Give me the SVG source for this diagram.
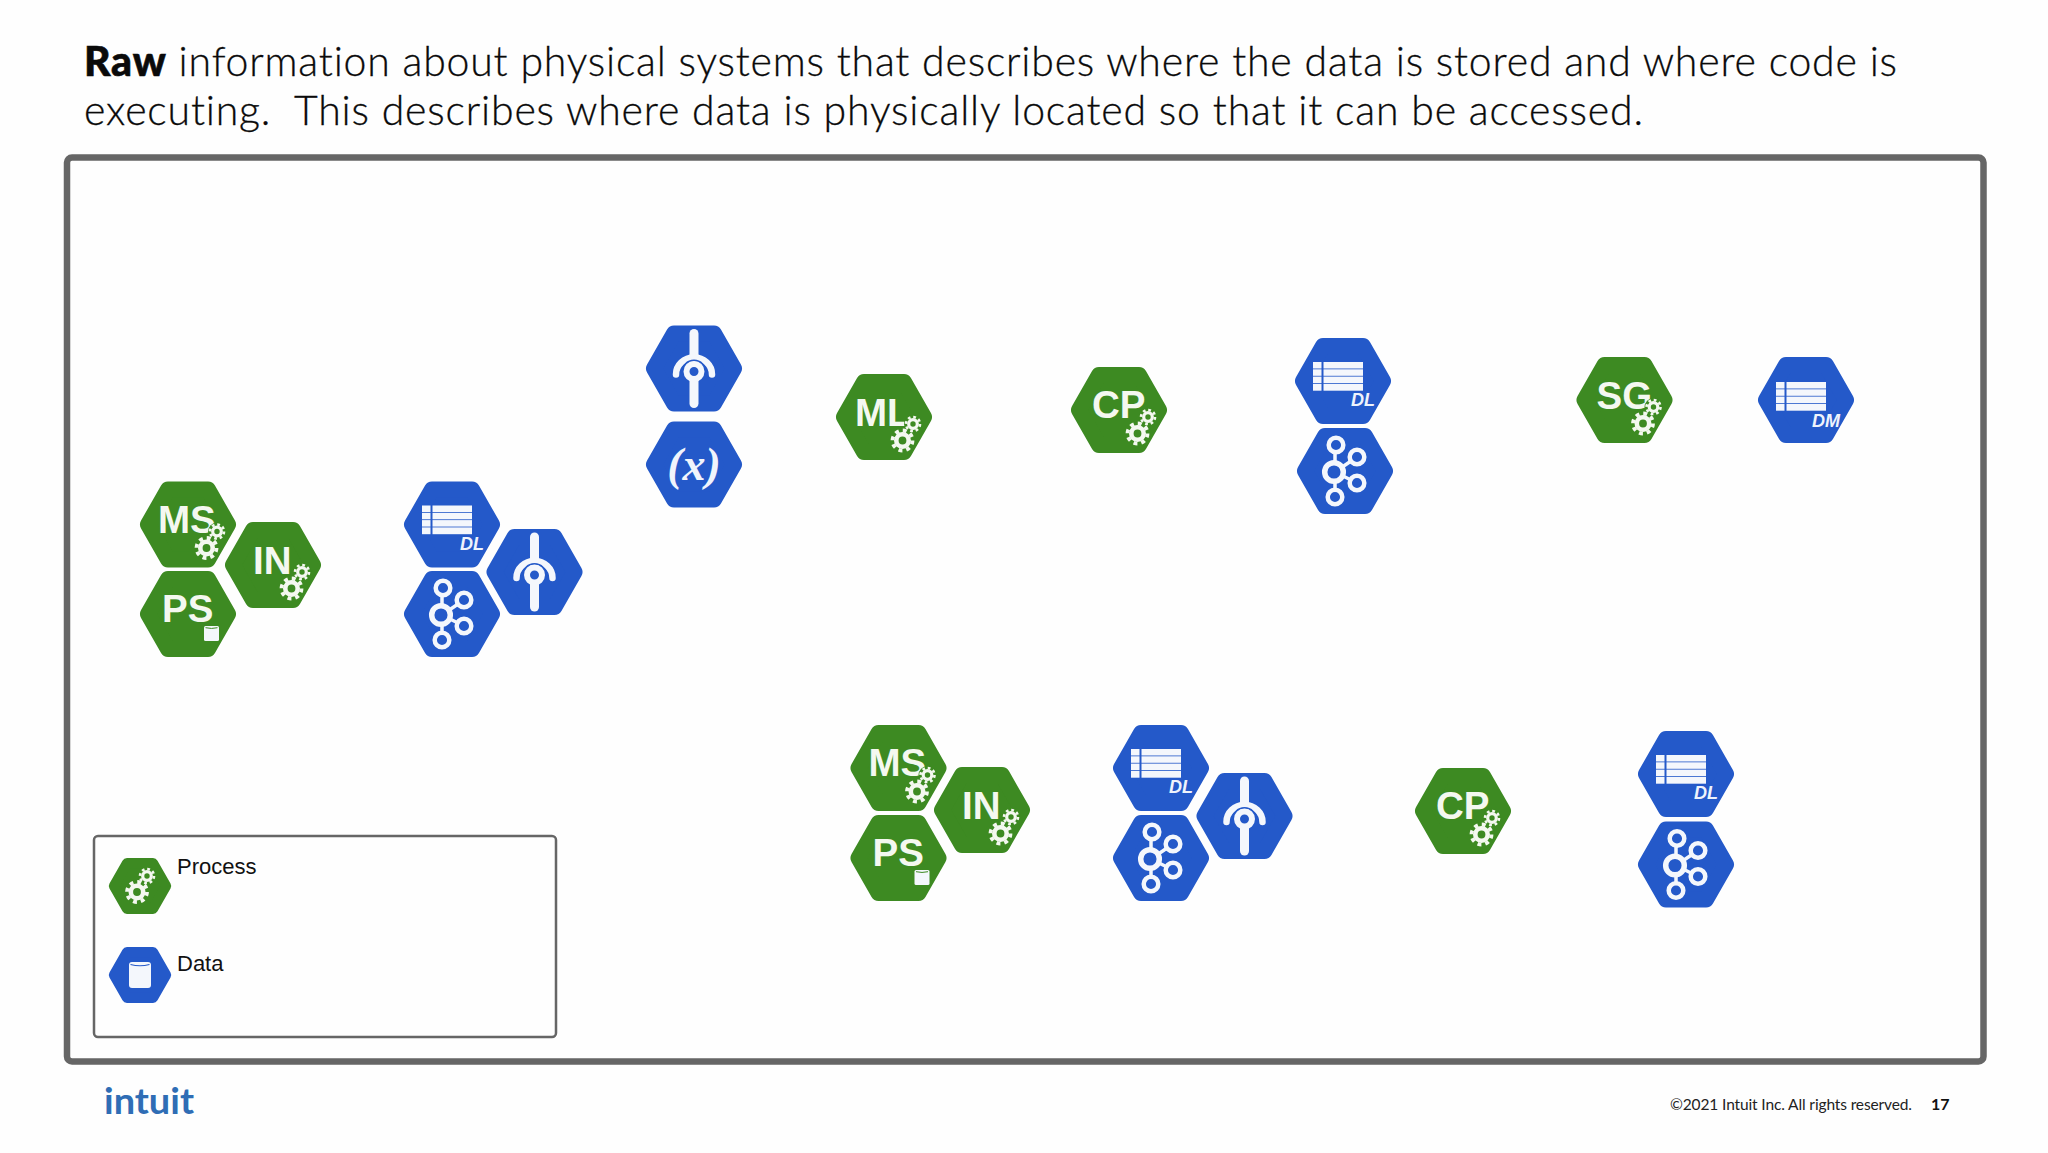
<svg xmlns="http://www.w3.org/2000/svg" width="2048" height="1153" viewBox="0 0 2048 1153">
<style>
.title{font-family:Lato,"Noto Sans",sans-serif;font-size:41px;font-weight:300;fill:#0a0a0a;stroke:#0a0a0a;stroke-width:.3;font-variant-ligatures:none;white-space:pre}
.lbl{font-family:"Liberation Sans",Arial,sans-serif;font-weight:700;font-size:38.500px;fill:#f4f8f0;transform:translateY(1px)}
.sub{font-family:"Liberation Sans",Arial,sans-serif;font-weight:700;font-style:italic;font-size:18px;fill:#eef3fc}
.leg{font-family:"Liberation Sans",Arial,sans-serif;font-size:22px;fill:#111}
.foot{font-family:Lato,"Noto Sans",sans-serif;font-size:15.500px;fill:#222;font-variant-ligatures:none}
.g{fill:#3d8a22;stroke:#3d8a22;stroke-width:16;stroke-linejoin:round}
.b{fill:#2459c9;stroke:#2459c9;stroke-width:16;stroke-linejoin:round}
.w{fill:#f4f7fc}
.k{fill:none;stroke:#f4f7fc}
</style>
<defs>
<polygon id="hex" points="-40,0 -20,-35 20,-35 40,0 20,35 -20,35"/>
<g id="gearB"><circle r="6.200" fill="none" stroke="#f4f8f0" stroke-width="4.600"/><circle r="10" fill="none" stroke="#f4f8f0" stroke-width="3.800" stroke-dasharray="3.900 3.950"/></g>
<g id="gearS"><circle r="9" fill="#3d8a22"/><circle r="4.300" fill="none" stroke="#f4f8f0" stroke-width="3.200"/><circle r="7" fill="none" stroke="#f4f8f0" stroke-width="2.600" stroke-dasharray="2.750 2.750"/></g>
<g id="gears"><use href="#gearS" x="29" y="7"/><use href="#gearB" x="18.500" y="23.500"/></g>
<g id="table" class="w"><rect x="-30" y="-19" width="8.500" height="6.500"/><rect x="-30" y="-11.700" width="8.500" height="6.500"/><rect x="-30" y="-4.400" width="8.500" height="6.500"/><rect x="-30" y="2.900" width="8.500" height="6.800"/><rect x="-19.500" y="-19" width="39.500" height="6.500"/><rect x="-19.500" y="-11.700" width="39.500" height="6.500"/><rect x="-19.500" y="-4.400" width="39.500" height="6.500"/><rect x="-19.500" y="2.900" width="39.500" height="6.800"/></g>
<g id="kafka" class="k"><path stroke-width="3.500" d="M-10,-26V1L12,-14M-10,1L12,12M-10,1V26"/><circle cx="-11" cy="1" r="9.300" stroke-width="5.500" fill="#2459c9"/><circle cx="-9" cy="-26" r="7.300" stroke-width="4.500" fill="#2459c9"/><circle cx="12" cy="-14" r="7.300" stroke-width="4.500" fill="#2459c9"/><circle cx="12" cy="12" r="7.300" stroke-width="4.500" fill="#2459c9"/><circle cx="-10" cy="26" r="7.300" stroke-width="4.500" fill="#2459c9"/></g>
<g id="lever"><path class="k" stroke-width="9" stroke-linecap="round" d="M0,-35V35"/><path class="k" stroke-width="6.500" stroke-linecap="round" d="M-18,6A18,17 0 0 1 18,6"/><path fill="none" stroke="#2459c9" stroke-width="1.800" d="M-12,4A12,12 0 0 1 12,4"/><circle cy="3" r="7.500" stroke="#f4f7fc" stroke-width="6" fill="#2459c9"/></g>
<g id="cyl"><rect x="-7.500" y="-7" width="15" height="15" rx="1.500" class="w"/><path d="M-6,-5.300Q0,-3.800 6,-5.300" fill="none" stroke="#3d8a22" stroke-width="1"/></g>
</defs>
<rect width="2048" height="1153" fill="#fefefe"/>
<g id="heading">
<text class="title" x="84" y="76" textLength="1813"><tspan style="font-weight:900;stroke-width:.6">Raw</tspan> information about physical systems that describes where the data is stored and where code is</text>
<text class="title" x="84" y="125" textLength="1559">executing.  This describes where data is physically located so that it can be accessed.</text>
</g>
<rect id="frame" x="67" y="157.500" width="1916.500" height="904" rx="5" fill="none" stroke="#666" stroke-width="6.500"/>

<g id="n-ms1" transform="translate(188,524.500)"><use href="#hex" class="g"/><text class="lbl" x="-30" y="7">MS</text><use href="#gears"/></g>
<g id="n-in1" transform="translate(273,565)"><use href="#hex" class="g"/><text class="lbl" x="-20" y="8">IN</text><use href="#gears"/></g>
<g id="n-ps1" transform="translate(188,614)"><use href="#hex" class="g"/><text class="lbl" x="-26" y="7">PS</text><use href="#cyl" x="23.500" y="19"/></g>
<g id="n-dl1" transform="translate(452,524.500)"><use href="#hex" class="b"/><use href="#table"/><text class="sub" x="8" y="25">DL</text></g>
<g id="n-ka1" transform="translate(452,614)"><use href="#hex" class="b"/><use href="#kafka"/></g>
<g id="n-le1" transform="translate(534.500,572)"><use href="#hex" class="b"/><use href="#lever"/></g>

<g id="n-le2" transform="translate(694,368.500)"><use href="#hex" class="b"/><use href="#lever"/></g>
<g id="n-x" transform="translate(694,464.500)"><use href="#hex" class="b"/><text x="0" y="15" text-anchor="middle" font-family="'Liberation Serif',serif" font-weight="700" font-style="italic" font-size="46" fill="#f0f4fc">(x)</text></g>
<g id="n-ml" transform="translate(884,417)"><use href="#hex" class="g"/><text class="lbl" x="-29" y="8">ML</text><use href="#gears"/></g>
<g id="n-cp1" transform="translate(1119,410)"><use href="#hex" class="g"/><text class="lbl" x="-27" y="7">CP</text><use href="#gears"/></g>
<g id="n-dl2" transform="translate(1343,381)"><use href="#hex" class="b"/><use href="#table"/><text class="sub" x="8" y="25">DL</text></g>
<g id="n-ka2" transform="translate(1345,471)"><use href="#hex" class="b"/><use href="#kafka"/></g>
<g id="n-sg" transform="translate(1624.500,400)"><use href="#hex" class="g"/><text class="lbl" x="-28" y="8">SG</text><use href="#gears"/></g>
<g id="n-dm" transform="translate(1806,400)"><use href="#hex" class="b"/><use href="#table" y="1"/><text class="sub" x="6" y="27">DM</text></g>

<g id="n-ms2" transform="translate(898.500,768)"><use href="#hex" class="g"/><text class="lbl" x="-30" y="7">MS</text><use href="#gears"/></g>
<g id="n-in2" transform="translate(982,810)"><use href="#hex" class="g"/><text class="lbl" x="-20" y="8">IN</text><use href="#gears"/></g>
<g id="n-ps2" transform="translate(898.500,858)"><use href="#hex" class="g"/><text class="lbl" x="-26" y="7">PS</text><use href="#cyl" x="23.500" y="19"/></g>
<g id="n-dl3" transform="translate(1161,768)"><use href="#hex" class="b"/><use href="#table"/><text class="sub" x="8" y="25">DL</text></g>
<g id="n-ka3" transform="translate(1161,858)"><use href="#hex" class="b"/><use href="#kafka"/></g>
<g id="n-le3" transform="translate(1244.500,816)"><use href="#hex" class="b"/><use href="#lever"/></g>
<g id="n-cp2" transform="translate(1463,811)"><use href="#hex" class="g"/><text class="lbl" x="-27" y="7">CP</text><use href="#gears"/></g>
<g id="n-dl4" transform="translate(1686,774)"><use href="#hex" class="b"/><use href="#table"/><text class="sub" x="8" y="25">DL</text></g>
<g id="n-ka4" transform="translate(1686,864.500)"><use href="#hex" class="b"/><use href="#kafka"/></g>

<g id="legend">
<rect x="94" y="836" width="462" height="201" rx="4" fill="#fefefe" stroke="#666" stroke-width="2.500"/>
<g transform="translate(140,886)"><use href="#hex" class="g" transform="scale(.65)"/><use href="#gearS" x="7" y="-10"/><use href="#gearB" x="-3" y="6"/></g>
<g transform="translate(140,975)"><use href="#hex" class="b" transform="scale(.65)"/><rect x="-11" y="-13" width="22" height="26" rx="3" class="w"/><path d="M-9.500,-10.500Q0,-8 9.500,-10.500" fill="none" stroke="#2459c9" stroke-width="1.200"/></g>
<text class="leg" x="177" y="874">Process</text>
<text class="leg" x="177" y="971">Data</text>
</g>
<text id="logo" x="104" y="1114" textLength="90" lengthAdjust="spacingAndGlyphs" font-family="Lato,'Noto Sans',sans-serif" font-weight="700" font-size="37" fill="#2f6db5">intuit</text>
<g id="footer">
<text class="foot" x="1670" y="1110" textLength="242">©2021 Intuit Inc. All rights reserved.</text>
<text class="foot" x="1931" y="1110" style="font-weight:700;font-size:16px;fill:#111">17</text>
</g>
</svg>
